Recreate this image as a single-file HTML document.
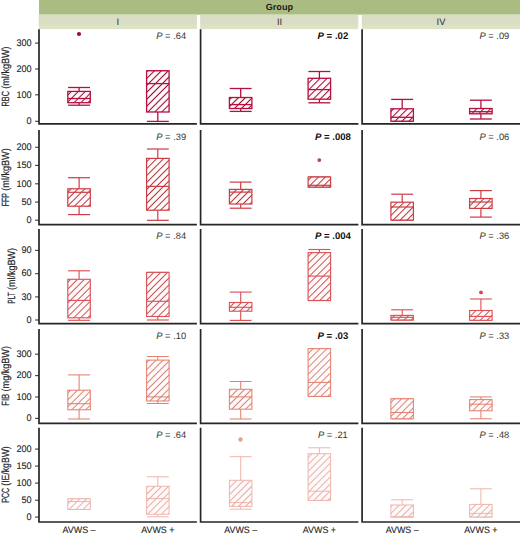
<!DOCTYPE html><html><head><meta charset="utf-8"><style>html,body{margin:0;padding:0;background:#fff;width:520px;height:536px;overflow:hidden;}svg{display:block;}text{font-family:"Liberation Sans",sans-serif;text-rendering:geometricPrecision;}</style></head><body>
<svg width="520" height="536" viewBox="0 0 520 536">
<defs><linearGradient id="lg" x1="0" y1="0" x2="0" y2="1"><stop offset="0" stop-color="#d8ddc3"/><stop offset="0.55" stop-color="#d9dec4"/><stop offset="0.8" stop-color="#dde2c5"/><stop offset="1" stop-color="#dfe4c9"/></linearGradient>
<pattern id="h0" patternUnits="userSpaceOnUse" width="4.9" height="4.9" patternTransform="rotate(45)"><line x1="2.45" y1="0" x2="2.45" y2="4.9" stroke="#9a0c36" stroke-width="1.05"/></pattern>
<pattern id="h1" patternUnits="userSpaceOnUse" width="4.9" height="4.9" patternTransform="rotate(45)"><line x1="2.45" y1="0" x2="2.45" y2="4.9" stroke="#b4343c" stroke-width="1.0"/></pattern>
<pattern id="h2" patternUnits="userSpaceOnUse" width="4.9" height="4.9" patternTransform="rotate(45)"><line x1="2.45" y1="0" x2="2.45" y2="4.9" stroke="#c84c52" stroke-width="0.95"/></pattern>
<pattern id="h3" patternUnits="userSpaceOnUse" width="4.9" height="4.9" patternTransform="rotate(45)"><line x1="2.45" y1="0" x2="2.45" y2="4.9" stroke="#cc7068" stroke-width="0.85"/></pattern>
<pattern id="h4" patternUnits="userSpaceOnUse" width="4.9" height="4.9" patternTransform="rotate(45)"><line x1="2.45" y1="0" x2="2.45" y2="4.9" stroke="#dc9c96" stroke-width="0.8"/></pattern>
</defs>
<rect x="39" y="0" width="481" height="14.7" fill="#abbc82"/>
<rect x="38.7" y="14.6" width="158.2" height="14.5" fill="url(#lg)"/>
<rect x="200.2" y="14.6" width="158.1" height="14.5" fill="url(#lg)"/>
<rect x="361.8" y="14.6" width="158.2" height="14.5" fill="url(#lg)"/>
<text x="279.4" y="9.9" font-size="9.1" font-weight="bold" text-anchor="middle" fill="#1c1c1c">Group</text>
<text x="117.9" y="24.7" font-size="9.4" text-anchor="middle" fill="#303030">I</text>
<text x="279.5" y="24.7" font-size="9.4" text-anchor="middle" fill="#303030">II</text>
<text x="441.0" y="24.7" font-size="9.4" text-anchor="middle" fill="#303030">IV</text>
<path d="M39.0 29.2V123.9H196.9" fill="none" stroke="#262626" stroke-width="1.7"/>
<g stroke="#b5103e" stroke-width="1.3"><line x1="79.1" y1="87.5" x2="79.1" y2="91.4"/><line x1="68.1" y1="87.5" x2="90.0" y2="87.5"/><line x1="79.1" y1="102.7" x2="79.1" y2="105.2"/><line x1="68.1" y1="105.2" x2="90.0" y2="105.2"/></g>
<rect x="67.8" y="91.4" width="22.5" height="11.3" fill="#fffafa"/>
<rect x="67.8" y="91.4" width="22.5" height="11.3" fill="url(#h0)" stroke="#b5103e" stroke-width="1.3"/>
<line x1="67.8" y1="98.5" x2="90.3" y2="98.5" stroke="#b5103e" stroke-width="1.3"/>
<circle cx="79" cy="34" r="2.1" fill="#a00c2c"/>
<g stroke="#b5103e" stroke-width="1.3"><line x1="146.9" y1="70.8" x2="168.8" y2="70.8"/><line x1="157.8" y1="112.0" x2="157.8" y2="121.4"/><line x1="146.9" y1="121.4" x2="168.8" y2="121.4"/></g>
<rect x="146.6" y="70.8" width="22.5" height="41.2" fill="#fffafa"/>
<rect x="146.6" y="70.8" width="22.5" height="41.2" fill="url(#h0)" stroke="#b5103e" stroke-width="1.3"/>
<line x1="146.6" y1="83.6" x2="169.1" y2="83.6" stroke="#b5103e" stroke-width="1.3"/>
<text x="171.2" y="39.0" font-size="9.3" text-anchor="middle" fill="#333"><tspan font-style="italic">P</tspan> = .64</text>
<path d="M200.6 29.2V123.9H358.4" fill="none" stroke="#262626" stroke-width="1.7"/>
<g stroke="#b5103e" stroke-width="1.3"><line x1="240.7" y1="88.5" x2="240.7" y2="97.5"/><line x1="229.7" y1="88.5" x2="251.6" y2="88.5"/><line x1="240.7" y1="108.5" x2="240.7" y2="111.4"/><line x1="229.7" y1="111.4" x2="251.6" y2="111.4"/></g>
<rect x="229.4" y="97.5" width="22.5" height="11.0" fill="#fffafa"/>
<rect x="229.4" y="97.5" width="22.5" height="11.0" fill="url(#h0)" stroke="#b5103e" stroke-width="1.3"/>
<line x1="229.4" y1="104.6" x2="251.9" y2="104.6" stroke="#b5103e" stroke-width="1.3"/>
<g stroke="#b5103e" stroke-width="1.3"><line x1="319.4" y1="71.5" x2="319.4" y2="78.3"/><line x1="308.4" y1="71.5" x2="330.3" y2="71.5"/><line x1="319.4" y1="99.2" x2="319.4" y2="102.8"/><line x1="308.4" y1="102.8" x2="330.3" y2="102.8"/></g>
<rect x="308.1" y="78.3" width="22.5" height="20.9" fill="#fffafa"/>
<rect x="308.1" y="78.3" width="22.5" height="20.9" fill="url(#h0)" stroke="#b5103e" stroke-width="1.3"/>
<line x1="308.1" y1="89.6" x2="330.6" y2="89.6" stroke="#b5103e" stroke-width="1.3"/>
<text x="332.9" y="39.0" font-size="9.6" font-weight="bold" text-anchor="middle" fill="#111"><tspan font-style="italic">P</tspan> = .02</text>
<path d="M362.1 29.2V123.9H520.0" fill="none" stroke="#262626" stroke-width="1.7"/>
<g stroke="#b5103e" stroke-width="1.3"><line x1="402.2" y1="99.4" x2="402.2" y2="108.8"/><line x1="391.2" y1="99.4" x2="413.1" y2="99.4"/><line x1="391.2" y1="121.2" x2="413.1" y2="121.2"/></g>
<rect x="390.9" y="108.8" width="22.5" height="12.4" fill="#fffafa"/>
<rect x="390.9" y="108.8" width="22.5" height="12.4" fill="url(#h0)" stroke="#b5103e" stroke-width="1.3"/>
<line x1="390.9" y1="117.3" x2="413.4" y2="117.3" stroke="#b5103e" stroke-width="1.3"/>
<g stroke="#b5103e" stroke-width="1.3"><line x1="480.9" y1="100.2" x2="480.9" y2="108.5"/><line x1="469.9" y1="100.2" x2="491.8" y2="100.2"/><line x1="480.9" y1="113.8" x2="480.9" y2="119.0"/><line x1="469.9" y1="119.0" x2="491.8" y2="119.0"/></g>
<rect x="469.6" y="108.5" width="22.5" height="5.3" fill="#fffafa"/>
<rect x="469.6" y="108.5" width="22.5" height="5.3" fill="url(#h0)" stroke="#b5103e" stroke-width="1.3"/>
<line x1="469.6" y1="111.7" x2="492.1" y2="111.7" stroke="#b5103e" stroke-width="1.3"/>
<text x="494.4" y="39.0" font-size="9.3" text-anchor="middle" fill="#333"><tspan font-style="italic">P</tspan> = .09</text>
<line x1="35.2" y1="43.1" x2="39.0" y2="43.1" stroke="#333" stroke-width="1.1"/>
<text transform="translate(31.65 45.80) scale(0.96 1)" x="0" y="0" font-size="9.5" text-anchor="end" fill="#222" stroke="#222" stroke-width="0.1">300</text>
<line x1="35.2" y1="69.0" x2="39.0" y2="69.0" stroke="#333" stroke-width="1.1"/>
<text transform="translate(31.65 71.70) scale(0.96 1)" x="0" y="0" font-size="9.5" text-anchor="end" fill="#222" stroke="#222" stroke-width="0.1">200</text>
<line x1="35.2" y1="94.8" x2="39.0" y2="94.8" stroke="#333" stroke-width="1.1"/>
<text transform="translate(31.65 97.50) scale(0.96 1)" x="0" y="0" font-size="9.5" text-anchor="end" fill="#222" stroke="#222" stroke-width="0.1">100</text>
<line x1="35.2" y1="121.3" x2="39.0" y2="121.3" stroke="#333" stroke-width="1.1"/>
<text transform="translate(31.65 124.00) scale(0.96 1)" x="0" y="0" font-size="9.5" text-anchor="end" fill="#222" stroke="#222" stroke-width="0.1">0</text>
<text transform="translate(9.4 106.5) rotate(-90)" x="0" y="0" font-size="10.5" textLength="15.6" lengthAdjust="spacingAndGlyphs" fill="#222" stroke="#222" stroke-width="0.18">RBC</text>
<text transform="translate(9.4 88.7) rotate(-90)" x="0" y="0" font-size="10.5" textLength="42.3" lengthAdjust="spacingAndGlyphs" fill="#222" stroke="#222" stroke-width="0.18">(ml/kgBW)</text>
<path d="M39.0 130.0V224.7H196.9" fill="none" stroke="#262626" stroke-width="1.7"/>
<g stroke="#cc3c44" stroke-width="1.2"><line x1="79.1" y1="177.7" x2="79.1" y2="188.8"/><line x1="68.1" y1="177.7" x2="90.0" y2="177.7"/><line x1="79.1" y1="206.2" x2="79.1" y2="214.6"/><line x1="68.1" y1="214.6" x2="90.0" y2="214.6"/></g>
<rect x="67.8" y="188.8" width="22.5" height="17.4" fill="#fffafa"/>
<rect x="67.8" y="188.8" width="22.5" height="17.4" fill="url(#h1)" stroke="#cc3c44" stroke-width="1.2"/>
<line x1="67.8" y1="192.3" x2="90.3" y2="192.3" stroke="#cc3c44" stroke-width="1.2"/>
<g stroke="#cc3c44" stroke-width="1.2"><line x1="157.8" y1="149.0" x2="157.8" y2="158.4"/><line x1="146.9" y1="149.0" x2="168.8" y2="149.0"/><line x1="157.8" y1="210.2" x2="157.8" y2="220.3"/><line x1="146.9" y1="220.3" x2="168.8" y2="220.3"/></g>
<rect x="146.6" y="158.4" width="22.5" height="51.8" fill="#fffafa"/>
<rect x="146.6" y="158.4" width="22.5" height="51.8" fill="url(#h1)" stroke="#cc3c44" stroke-width="1.2"/>
<line x1="146.6" y1="186.4" x2="169.1" y2="186.4" stroke="#cc3c44" stroke-width="1.2"/>
<text x="171.2" y="139.8" font-size="9.3" text-anchor="middle" fill="#333"><tspan font-style="italic">P</tspan> = .39</text>
<path d="M200.6 130.0V224.7H358.4" fill="none" stroke="#262626" stroke-width="1.7"/>
<g stroke="#cc3c44" stroke-width="1.2"><line x1="240.7" y1="182.1" x2="240.7" y2="189.4"/><line x1="229.7" y1="182.1" x2="251.6" y2="182.1"/><line x1="240.7" y1="204.0" x2="240.7" y2="208.2"/><line x1="229.7" y1="208.2" x2="251.6" y2="208.2"/></g>
<rect x="229.4" y="189.4" width="22.5" height="14.6" fill="#fffafa"/>
<rect x="229.4" y="189.4" width="22.5" height="14.6" fill="url(#h1)" stroke="#cc3c44" stroke-width="1.2"/>
<line x1="229.4" y1="192.1" x2="251.9" y2="192.1" stroke="#cc3c44" stroke-width="1.2"/>
<g stroke="#cc3c44" stroke-width="1.2"><line x1="308.4" y1="177.0" x2="330.3" y2="177.0"/><line x1="308.4" y1="187.1" x2="330.3" y2="187.1"/></g>
<rect x="308.1" y="177.0" width="22.5" height="10.1" fill="#fffafa"/>
<rect x="308.1" y="177.0" width="22.5" height="10.1" fill="url(#h1)" stroke="#cc3c44" stroke-width="1.2"/>
<line x1="308.1" y1="185.3" x2="330.6" y2="185.3" stroke="#cc3c44" stroke-width="1.2"/>
<circle cx="319.3" cy="160.1" r="1.9" fill="#c43c48"/>
<text x="332.9" y="139.8" font-size="9.6" font-weight="bold" text-anchor="middle" fill="#111"><tspan font-style="italic">P</tspan> = .008</text>
<path d="M362.1 130.0V224.7H520.0" fill="none" stroke="#262626" stroke-width="1.7"/>
<g stroke="#cc3c44" stroke-width="1.2"><line x1="402.2" y1="194.2" x2="402.2" y2="202.2"/><line x1="391.2" y1="194.2" x2="413.1" y2="194.2"/><line x1="391.2" y1="220.1" x2="413.1" y2="220.1"/></g>
<rect x="390.9" y="202.2" width="22.5" height="17.9" fill="#fffafa"/>
<rect x="390.9" y="202.2" width="22.5" height="17.9" fill="url(#h1)" stroke="#cc3c44" stroke-width="1.2"/>
<line x1="390.9" y1="207.0" x2="413.4" y2="207.0" stroke="#cc3c44" stroke-width="1.2"/>
<g stroke="#cc3c44" stroke-width="1.2"><line x1="480.9" y1="190.6" x2="480.9" y2="198.5"/><line x1="469.9" y1="190.6" x2="491.8" y2="190.6"/><line x1="480.9" y1="208.4" x2="480.9" y2="217.1"/><line x1="469.9" y1="217.1" x2="491.8" y2="217.1"/></g>
<rect x="469.6" y="198.5" width="22.5" height="9.9" fill="#fffafa"/>
<rect x="469.6" y="198.5" width="22.5" height="9.9" fill="url(#h1)" stroke="#cc3c44" stroke-width="1.2"/>
<line x1="469.6" y1="202.0" x2="492.1" y2="202.0" stroke="#cc3c44" stroke-width="1.2"/>
<text x="494.4" y="139.8" font-size="9.3" text-anchor="middle" fill="#333"><tspan font-style="italic">P</tspan> = .06</text>
<line x1="35.2" y1="147.3" x2="39.0" y2="147.3" stroke="#333" stroke-width="1.1"/>
<text transform="translate(31.65 150.00) scale(0.96 1)" x="0" y="0" font-size="9.5" text-anchor="end" fill="#222" stroke="#222" stroke-width="0.1">200</text>
<line x1="35.2" y1="165.4" x2="39.0" y2="165.4" stroke="#333" stroke-width="1.1"/>
<text transform="translate(31.65 168.10) scale(0.96 1)" x="0" y="0" font-size="9.5" text-anchor="end" fill="#222" stroke="#222" stroke-width="0.1">150</text>
<line x1="35.2" y1="183.8" x2="39.0" y2="183.8" stroke="#333" stroke-width="1.1"/>
<text transform="translate(31.65 186.50) scale(0.96 1)" x="0" y="0" font-size="9.5" text-anchor="end" fill="#222" stroke="#222" stroke-width="0.1">100</text>
<line x1="35.2" y1="202.1" x2="39.0" y2="202.1" stroke="#333" stroke-width="1.1"/>
<text transform="translate(31.65 204.80) scale(0.96 1)" x="0" y="0" font-size="9.5" text-anchor="end" fill="#222" stroke="#222" stroke-width="0.1">50</text>
<line x1="35.2" y1="220.2" x2="39.0" y2="220.2" stroke="#333" stroke-width="1.1"/>
<text transform="translate(31.65 222.90) scale(0.96 1)" x="0" y="0" font-size="9.5" text-anchor="end" fill="#222" stroke="#222" stroke-width="0.1">0</text>
<text transform="translate(9.4 206.2) rotate(-90)" x="0" y="0" font-size="10.5" textLength="13.2" lengthAdjust="spacingAndGlyphs" fill="#222" stroke="#222" stroke-width="0.18">FFP</text>
<text transform="translate(9.4 190.7) rotate(-90)" x="0" y="0" font-size="10.5" textLength="42.4" lengthAdjust="spacingAndGlyphs" fill="#222" stroke="#222" stroke-width="0.18">(ml/kgBW)</text>
<path d="M39.0 229.0V323.6H196.9" fill="none" stroke="#262626" stroke-width="1.7"/>
<g stroke="#dc5458" stroke-width="1.15"><line x1="79.1" y1="270.8" x2="79.1" y2="279.3"/><line x1="68.1" y1="270.8" x2="90.0" y2="270.8"/><line x1="79.1" y1="317.8" x2="79.1" y2="320.3"/><line x1="68.1" y1="320.3" x2="90.0" y2="320.3"/></g>
<rect x="67.8" y="279.3" width="22.5" height="38.5" fill="#fffafa"/>
<rect x="67.8" y="279.3" width="22.5" height="38.5" fill="url(#h2)" stroke="#dc5458" stroke-width="1.15"/>
<line x1="67.8" y1="300.4" x2="90.3" y2="300.4" stroke="#dc5458" stroke-width="1.15"/>
<g stroke="#dc5458" stroke-width="1.15"><line x1="146.9" y1="272.4" x2="168.8" y2="272.4"/><line x1="157.8" y1="316.5" x2="157.8" y2="320.0"/><line x1="146.9" y1="320.0" x2="168.8" y2="320.0"/></g>
<rect x="146.6" y="272.4" width="22.5" height="44.1" fill="#fffafa"/>
<rect x="146.6" y="272.4" width="22.5" height="44.1" fill="url(#h2)" stroke="#dc5458" stroke-width="1.15"/>
<line x1="146.6" y1="301.3" x2="169.1" y2="301.3" stroke="#dc5458" stroke-width="1.15"/>
<text x="171.2" y="238.8" font-size="9.3" text-anchor="middle" fill="#333"><tspan font-style="italic">P</tspan> = .84</text>
<path d="M200.6 229.0V323.6H358.4" fill="none" stroke="#262626" stroke-width="1.7"/>
<g stroke="#dc5458" stroke-width="1.15"><line x1="240.7" y1="292.1" x2="240.7" y2="302.5"/><line x1="229.7" y1="292.1" x2="251.6" y2="292.1"/><line x1="240.7" y1="311.2" x2="240.7" y2="320.4"/><line x1="229.7" y1="320.4" x2="251.6" y2="320.4"/></g>
<rect x="229.4" y="302.5" width="22.5" height="8.7" fill="#fffafa"/>
<rect x="229.4" y="302.5" width="22.5" height="8.7" fill="url(#h2)" stroke="#dc5458" stroke-width="1.15"/>
<line x1="229.4" y1="307.3" x2="251.9" y2="307.3" stroke="#dc5458" stroke-width="1.15"/>
<g stroke="#dc5458" stroke-width="1.15"><line x1="319.4" y1="249.5" x2="319.4" y2="252.6"/><line x1="308.4" y1="249.5" x2="330.3" y2="249.5"/><line x1="308.4" y1="300.5" x2="330.3" y2="300.5"/></g>
<rect x="308.1" y="252.6" width="22.5" height="47.9" fill="#fffafa"/>
<rect x="308.1" y="252.6" width="22.5" height="47.9" fill="url(#h2)" stroke="#dc5458" stroke-width="1.15"/>
<line x1="308.1" y1="276.1" x2="330.6" y2="276.1" stroke="#dc5458" stroke-width="1.15"/>
<text x="332.9" y="238.8" font-size="9.6" font-weight="bold" text-anchor="middle" fill="#111"><tspan font-style="italic">P</tspan> = .004</text>
<path d="M362.1 229.0V323.6H520.0" fill="none" stroke="#262626" stroke-width="1.7"/>
<g stroke="#dc5458" stroke-width="1.15"><line x1="402.2" y1="309.8" x2="402.2" y2="315.4"/><line x1="391.2" y1="309.8" x2="413.1" y2="309.8"/><line x1="391.2" y1="320.0" x2="413.1" y2="320.0"/></g>
<rect x="390.9" y="315.4" width="22.5" height="4.6" fill="#fffafa"/>
<rect x="390.9" y="315.4" width="22.5" height="4.6" fill="url(#h2)" stroke="#dc5458" stroke-width="1.15"/>
<line x1="390.9" y1="317.3" x2="413.4" y2="317.3" stroke="#dc5458" stroke-width="1.15"/>
<g stroke="#dc5458" stroke-width="1.15"><line x1="480.9" y1="299.0" x2="480.9" y2="310.5"/><line x1="469.9" y1="299.0" x2="491.8" y2="299.0"/><line x1="469.9" y1="320.3" x2="491.8" y2="320.3"/></g>
<rect x="469.6" y="310.5" width="22.5" height="9.8" fill="#fffafa"/>
<rect x="469.6" y="310.5" width="22.5" height="9.8" fill="url(#h2)" stroke="#dc5458" stroke-width="1.15"/>
<line x1="469.6" y1="316.4" x2="492.1" y2="316.4" stroke="#dc5458" stroke-width="1.15"/>
<circle cx="481" cy="292.4" r="1.9" fill="#d04858"/>
<text x="494.4" y="238.8" font-size="9.3" text-anchor="middle" fill="#333"><tspan font-style="italic">P</tspan> = .36</text>
<line x1="35.2" y1="250.4" x2="39.0" y2="250.4" stroke="#333" stroke-width="1.1"/>
<text transform="translate(31.65 253.10) scale(0.96 1)" x="0" y="0" font-size="9.5" text-anchor="end" fill="#222" stroke="#222" stroke-width="0.1">90</text>
<line x1="35.2" y1="273.7" x2="39.0" y2="273.7" stroke="#333" stroke-width="1.1"/>
<text transform="translate(31.65 276.40) scale(0.96 1)" x="0" y="0" font-size="9.5" text-anchor="end" fill="#222" stroke="#222" stroke-width="0.1">60</text>
<line x1="35.2" y1="296.9" x2="39.0" y2="296.9" stroke="#333" stroke-width="1.1"/>
<text transform="translate(31.65 299.60) scale(0.96 1)" x="0" y="0" font-size="9.5" text-anchor="end" fill="#222" stroke="#222" stroke-width="0.1">30</text>
<line x1="35.2" y1="320.0" x2="39.0" y2="320.0" stroke="#333" stroke-width="1.1"/>
<text transform="translate(31.65 322.70) scale(0.96 1)" x="0" y="0" font-size="9.5" text-anchor="end" fill="#222" stroke="#222" stroke-width="0.1">0</text>
<text transform="translate(14.7 303.8) rotate(-90)" x="0" y="0" font-size="10.5" textLength="11.5" lengthAdjust="spacingAndGlyphs" fill="#222" stroke="#222" stroke-width="0.18">PLT</text>
<text transform="translate(14.7 290.1) rotate(-90)" x="0" y="0" font-size="10.5" textLength="42.2" lengthAdjust="spacingAndGlyphs" fill="#222" stroke="#222" stroke-width="0.18">(ml/kgBW)</text>
<path d="M39.0 329.0V423.4H196.9" fill="none" stroke="#262626" stroke-width="1.7"/>
<g stroke="#e6806e" stroke-width="1.05"><line x1="79.1" y1="374.9" x2="79.1" y2="390.2"/><line x1="68.1" y1="374.9" x2="90.0" y2="374.9"/><line x1="79.1" y1="409.8" x2="79.1" y2="419.0"/><line x1="68.1" y1="419.0" x2="90.0" y2="419.0"/></g>
<rect x="67.8" y="390.2" width="22.5" height="19.6" fill="#fffafa"/>
<rect x="67.8" y="390.2" width="22.5" height="19.6" fill="url(#h3)" stroke="#e6806e" stroke-width="1.05"/>
<line x1="67.8" y1="403.7" x2="90.3" y2="403.7" stroke="#e6806e" stroke-width="1.05"/>
<g stroke="#e6806e" stroke-width="1.05"><line x1="157.8" y1="356.5" x2="157.8" y2="360.1"/><line x1="146.9" y1="356.5" x2="168.8" y2="356.5"/><line x1="157.8" y1="401.0" x2="157.8" y2="403.5"/><line x1="146.9" y1="403.5" x2="168.8" y2="403.5"/></g>
<rect x="146.6" y="360.1" width="22.5" height="40.9" fill="#fffafa"/>
<rect x="146.6" y="360.1" width="22.5" height="40.9" fill="url(#h3)" stroke="#e6806e" stroke-width="1.05"/>
<line x1="146.6" y1="396.9" x2="169.1" y2="396.9" stroke="#e6806e" stroke-width="1.05"/>
<text x="171.2" y="338.8" font-size="9.3" text-anchor="middle" fill="#333"><tspan font-style="italic">P</tspan> = .10</text>
<path d="M200.6 329.0V423.4H358.4" fill="none" stroke="#262626" stroke-width="1.7"/>
<g stroke="#e6806e" stroke-width="1.05"><line x1="240.7" y1="381.5" x2="240.7" y2="389.3"/><line x1="229.7" y1="381.5" x2="251.6" y2="381.5"/><line x1="240.7" y1="409.2" x2="240.7" y2="419.0"/><line x1="229.7" y1="419.0" x2="251.6" y2="419.0"/></g>
<rect x="229.4" y="389.3" width="22.5" height="19.9" fill="#fffafa"/>
<rect x="229.4" y="389.3" width="22.5" height="19.9" fill="url(#h3)" stroke="#e6806e" stroke-width="1.05"/>
<line x1="229.4" y1="396.9" x2="251.9" y2="396.9" stroke="#e6806e" stroke-width="1.05"/>
<g stroke="#e6806e" stroke-width="1.05"><line x1="308.4" y1="348.7" x2="330.3" y2="348.7"/><line x1="308.4" y1="396.4" x2="330.3" y2="396.4"/></g>
<rect x="308.1" y="348.7" width="22.5" height="47.7" fill="#fffafa"/>
<rect x="308.1" y="348.7" width="22.5" height="47.7" fill="url(#h3)" stroke="#e6806e" stroke-width="1.05"/>
<line x1="308.1" y1="382.4" x2="330.6" y2="382.4" stroke="#e6806e" stroke-width="1.05"/>
<text x="332.9" y="338.8" font-size="9.6" font-weight="bold" text-anchor="middle" fill="#111"><tspan font-style="italic">P</tspan> = .03</text>
<path d="M362.1 329.0V423.4H520.0" fill="none" stroke="#262626" stroke-width="1.7"/>
<g stroke="#e6806e" stroke-width="1.05"><line x1="391.2" y1="398.8" x2="413.1" y2="398.8"/><line x1="391.2" y1="418.8" x2="413.1" y2="418.8"/></g>
<rect x="390.9" y="398.8" width="22.5" height="20.0" fill="#fffafa"/>
<rect x="390.9" y="398.8" width="22.5" height="20.0" fill="url(#h3)" stroke="#e6806e" stroke-width="1.05"/>
<line x1="390.9" y1="412.5" x2="413.4" y2="412.5" stroke="#e6806e" stroke-width="1.05"/>
<g stroke="#e6806e" stroke-width="1.05"><line x1="480.9" y1="396.9" x2="480.9" y2="399.6"/><line x1="469.9" y1="396.9" x2="491.8" y2="396.9"/><line x1="480.9" y1="410.8" x2="480.9" y2="418.8"/><line x1="469.9" y1="418.8" x2="491.8" y2="418.8"/></g>
<rect x="469.6" y="399.6" width="22.5" height="11.2" fill="#fffafa"/>
<rect x="469.6" y="399.6" width="22.5" height="11.2" fill="url(#h3)" stroke="#e6806e" stroke-width="1.05"/>
<line x1="469.6" y1="404.2" x2="492.1" y2="404.2" stroke="#e6806e" stroke-width="1.05"/>
<text x="494.4" y="338.8" font-size="9.3" text-anchor="middle" fill="#333"><tspan font-style="italic">P</tspan> = .33</text>
<line x1="35.2" y1="354.2" x2="39.0" y2="354.2" stroke="#333" stroke-width="1.1"/>
<text transform="translate(31.65 356.90) scale(0.96 1)" x="0" y="0" font-size="9.5" text-anchor="end" fill="#222" stroke="#222" stroke-width="0.1">300</text>
<line x1="35.2" y1="375.6" x2="39.0" y2="375.6" stroke="#333" stroke-width="1.1"/>
<text transform="translate(31.65 378.30) scale(0.96 1)" x="0" y="0" font-size="9.5" text-anchor="end" fill="#222" stroke="#222" stroke-width="0.1">200</text>
<line x1="35.2" y1="397.0" x2="39.0" y2="397.0" stroke="#333" stroke-width="1.1"/>
<text transform="translate(31.65 399.70) scale(0.96 1)" x="0" y="0" font-size="9.5" text-anchor="end" fill="#222" stroke="#222" stroke-width="0.1">100</text>
<line x1="35.2" y1="418.4" x2="39.0" y2="418.4" stroke="#333" stroke-width="1.1"/>
<text transform="translate(31.65 421.10) scale(0.96 1)" x="0" y="0" font-size="9.5" text-anchor="end" fill="#222" stroke="#222" stroke-width="0.1">0</text>
<text transform="translate(9.4 405.7) rotate(-90)" x="0" y="0" font-size="10.5" textLength="11.9" lengthAdjust="spacingAndGlyphs" fill="#222" stroke="#222" stroke-width="0.18">FIB</text>
<text transform="translate(9.4 391.4) rotate(-90)" x="0" y="0" font-size="10.5" textLength="45.3" lengthAdjust="spacingAndGlyphs" fill="#222" stroke="#222" stroke-width="0.18">(mg/kgBW)</text>
<path d="M39.0 427.7V522.0H196.9" fill="none" stroke="#262626" stroke-width="1.7"/>
<g stroke="#f0b4ac" stroke-width="1.0"><line x1="68.1" y1="498.8" x2="90.0" y2="498.8"/><line x1="68.1" y1="509.5" x2="90.0" y2="509.5"/></g>
<rect x="67.8" y="498.8" width="22.5" height="10.7" fill="#fffafa"/>
<rect x="67.8" y="498.8" width="22.5" height="10.7" fill="url(#h4)" stroke="#f0b4ac" stroke-width="1.0"/>
<line x1="67.8" y1="501.5" x2="90.3" y2="501.5" stroke="#f0b4ac" stroke-width="1.0"/>
<g stroke="#f0b4ac" stroke-width="1.0"><line x1="157.8" y1="476.8" x2="157.8" y2="486.3"/><line x1="146.9" y1="476.8" x2="168.8" y2="476.8"/><line x1="157.8" y1="514.3" x2="157.8" y2="516.8"/><line x1="146.9" y1="516.8" x2="168.8" y2="516.8"/></g>
<rect x="146.6" y="486.3" width="22.5" height="28.0" fill="#fffafa"/>
<rect x="146.6" y="486.3" width="22.5" height="28.0" fill="url(#h4)" stroke="#f0b4ac" stroke-width="1.0"/>
<line x1="146.6" y1="498.6" x2="169.1" y2="498.6" stroke="#f0b4ac" stroke-width="1.0"/>
<text x="171.2" y="437.5" font-size="9.3" text-anchor="middle" fill="#333"><tspan font-style="italic">P</tspan> = .64</text>
<path d="M200.6 427.7V522.0H358.4" fill="none" stroke="#262626" stroke-width="1.7"/>
<g stroke="#f0b4ac" stroke-width="1.0"><line x1="240.7" y1="456.7" x2="240.7" y2="480.3"/><line x1="229.7" y1="456.7" x2="251.6" y2="456.7"/><line x1="240.7" y1="506.4" x2="240.7" y2="509.2"/><line x1="229.7" y1="509.2" x2="251.6" y2="509.2"/></g>
<rect x="229.4" y="480.3" width="22.5" height="26.1" fill="#fffafa"/>
<rect x="229.4" y="480.3" width="22.5" height="26.1" fill="url(#h4)" stroke="#f0b4ac" stroke-width="1.0"/>
<line x1="229.4" y1="502.6" x2="251.9" y2="502.6" stroke="#f0b4ac" stroke-width="1.0"/>
<circle cx="240.5" cy="439.5" r="2.2" fill="#e6a482"/>
<g stroke="#f0b4ac" stroke-width="1.0"><line x1="319.4" y1="447.8" x2="319.4" y2="453.7"/><line x1="308.4" y1="447.8" x2="330.3" y2="447.8"/><line x1="308.4" y1="500.4" x2="330.3" y2="500.4"/></g>
<rect x="308.1" y="453.7" width="22.5" height="46.7" fill="#fffafa"/>
<rect x="308.1" y="453.7" width="22.5" height="46.7" fill="url(#h4)" stroke="#f0b4ac" stroke-width="1.0"/>
<line x1="308.1" y1="491.2" x2="330.6" y2="491.2" stroke="#f0b4ac" stroke-width="1.0"/>
<text x="332.9" y="437.5" font-size="9.3" text-anchor="middle" fill="#333"><tspan font-style="italic">P</tspan> = .21</text>
<path d="M362.1 427.7V522.0H520.0" fill="none" stroke="#262626" stroke-width="1.7"/>
<g stroke="#f0b4ac" stroke-width="1.0"><line x1="402.2" y1="499.8" x2="402.2" y2="505.0"/><line x1="391.2" y1="499.8" x2="413.1" y2="499.8"/><line x1="391.2" y1="516.9" x2="413.1" y2="516.9"/></g>
<rect x="390.9" y="505.0" width="22.5" height="11.9" fill="#fffafa"/>
<rect x="390.9" y="505.0" width="22.5" height="11.9" fill="url(#h4)" stroke="#f0b4ac" stroke-width="1.0"/>
<line x1="390.9" y1="516.9" x2="413.4" y2="516.9" stroke="#f0b4ac" stroke-width="1.0"/>
<g stroke="#f0b4ac" stroke-width="1.0"><line x1="480.9" y1="488.8" x2="480.9" y2="504.4"/><line x1="469.9" y1="488.8" x2="491.8" y2="488.8"/><line x1="469.9" y1="517.0" x2="491.8" y2="517.0"/></g>
<rect x="469.6" y="504.4" width="22.5" height="12.6" fill="#fffafa"/>
<rect x="469.6" y="504.4" width="22.5" height="12.6" fill="url(#h4)" stroke="#f0b4ac" stroke-width="1.0"/>
<line x1="469.6" y1="513.4" x2="492.1" y2="513.4" stroke="#f0b4ac" stroke-width="1.0"/>
<text x="494.4" y="437.5" font-size="9.3" text-anchor="middle" fill="#333"><tspan font-style="italic">P</tspan> = .48</text>
<line x1="35.2" y1="449.1" x2="39.0" y2="449.1" stroke="#333" stroke-width="1.1"/>
<text transform="translate(31.65 451.80) scale(0.96 1)" x="0" y="0" font-size="9.5" text-anchor="end" fill="#222" stroke="#222" stroke-width="0.1">200</text>
<line x1="35.2" y1="466.1" x2="39.0" y2="466.1" stroke="#333" stroke-width="1.1"/>
<text transform="translate(31.65 468.80) scale(0.96 1)" x="0" y="0" font-size="9.5" text-anchor="end" fill="#222" stroke="#222" stroke-width="0.1">150</text>
<line x1="35.2" y1="483.1" x2="39.0" y2="483.1" stroke="#333" stroke-width="1.1"/>
<text transform="translate(31.65 485.80) scale(0.96 1)" x="0" y="0" font-size="9.5" text-anchor="end" fill="#222" stroke="#222" stroke-width="0.1">100</text>
<line x1="35.2" y1="500.2" x2="39.0" y2="500.2" stroke="#333" stroke-width="1.1"/>
<text transform="translate(31.65 502.90) scale(0.96 1)" x="0" y="0" font-size="9.5" text-anchor="end" fill="#222" stroke="#222" stroke-width="0.1">50</text>
<line x1="35.2" y1="517.1" x2="39.0" y2="517.1" stroke="#333" stroke-width="1.1"/>
<text transform="translate(31.65 519.80) scale(0.96 1)" x="0" y="0" font-size="9.5" text-anchor="end" fill="#222" stroke="#222" stroke-width="0.1">0</text>
<text transform="translate(9.4 502.8) rotate(-90)" x="0" y="0" font-size="10.5" textLength="15.0" lengthAdjust="spacingAndGlyphs" fill="#222" stroke="#222" stroke-width="0.18">PCC</text>
<text transform="translate(9.4 485.7) rotate(-90)" x="0" y="0" font-size="10.5" textLength="39.4" lengthAdjust="spacingAndGlyphs" fill="#222" stroke="#222" stroke-width="0.18">(IE/kgBW)</text>
<text transform="translate(79.05 533.2) scale(0.95 1)" x="0" y="0" font-size="9.4" text-anchor="middle" fill="#222" stroke="#222" stroke-width="0.1">AVWS –</text>
<text transform="translate(157.80 533.2) scale(0.95 1)" x="0" y="0" font-size="9.4" text-anchor="middle" fill="#222" stroke="#222" stroke-width="0.1">AVWS +</text>
<text transform="translate(240.65 533.2) scale(0.95 1)" x="0" y="0" font-size="9.4" text-anchor="middle" fill="#222" stroke="#222" stroke-width="0.1">AVWS –</text>
<text transform="translate(319.40 533.2) scale(0.95 1)" x="0" y="0" font-size="9.4" text-anchor="middle" fill="#222" stroke="#222" stroke-width="0.1">AVWS +</text>
<text transform="translate(402.15 533.2) scale(0.95 1)" x="0" y="0" font-size="9.4" text-anchor="middle" fill="#222" stroke="#222" stroke-width="0.1">AVWS –</text>
<text transform="translate(480.90 533.2) scale(0.95 1)" x="0" y="0" font-size="9.4" text-anchor="middle" fill="#222" stroke="#222" stroke-width="0.1">AVWS +</text>
</svg></body></html>
